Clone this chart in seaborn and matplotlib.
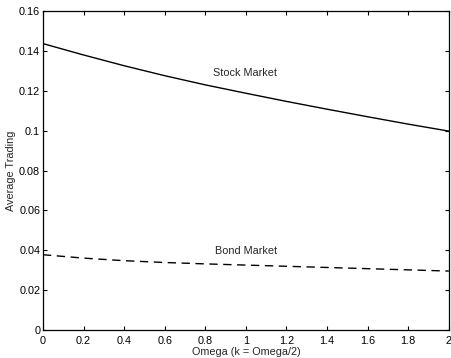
import matplotlib
matplotlib.use('Agg')
import matplotlib.pyplot as plt
import seaborn as sns
import pandas as pd

sns.set_theme(style='ticks')
plt.rcParams['font.family'] = ['Liberation Sans', 'DejaVu Sans']

omega = [0.0, 0.2, 0.4, 0.6, 0.8, 1.0, 1.2, 1.4, 1.6, 1.8, 2.0]
stock = [0.1437, 0.1380, 0.1326, 0.1276, 0.1230, 0.1188, 0.1147, 0.1108, 0.1070, 0.1033, 0.0998]
bond = [0.0378, 0.0361, 0.0348, 0.0339, 0.0332, 0.0326, 0.0320, 0.0314, 0.0308, 0.0302, 0.0296]

df = pd.DataFrame({'omega': omega, 'stock': stock, 'bond': bond})

fig = plt.figure(figsize=(4.52, 3.58), dpi=100)
ax = fig.add_axes([0.095, 0.078, 0.898, 0.891])

sns.lineplot(data=df, x='omega', y='stock', color='black', linewidth=1.0, ax=ax)
sns.lineplot(data=df, x='omega', y='bond', color='black', linewidth=1.0,
             linestyle=(0, (6, 4)), ax=ax)

ax.text(0.84, 0.129, 'Stock Market', fontsize=7.8, va='center')
ax.text(0.85, 0.0395, 'Bond Market', fontsize=7.8, va='center')

ax.set_xlim(0, 2)
ax.set_ylim(0, 0.16)
ax.set_xticks([0, 0.2, 0.4, 0.6, 0.8, 1, 1.2, 1.4, 1.6, 1.8, 2])
ax.set_xticklabels(['0', '0.2', '0.4', '0.6', '0.8', '1', '1.2', '1.4', '1.6', '1.8', '2'])
ax.set_yticks([0, 0.02, 0.04, 0.06, 0.08, 0.1, 0.12, 0.14, 0.16])
ax.set_yticklabels(['0', '0.02', '0.04', '0.06', '0.08', '0.1', '0.12', '0.14', '0.16'])
ax.tick_params(direction='in', top=True, right=True, length=3, width=0.8,
               labelsize=7.8, colors='black')
ax.tick_params(axis='x', pad=4)
ax.tick_params(axis='y', pad=2)
for s in ax.spines.values():
    s.set_linewidth(0.9)
    s.set_color('black')
ax.set_xlabel('Omega (k = Omega/2)', fontsize=7.8, labelpad=1)
ax.set_ylabel('Average Trading', fontsize=7.8, labelpad=2)

fig.savefig('out.png', dpi=100)
